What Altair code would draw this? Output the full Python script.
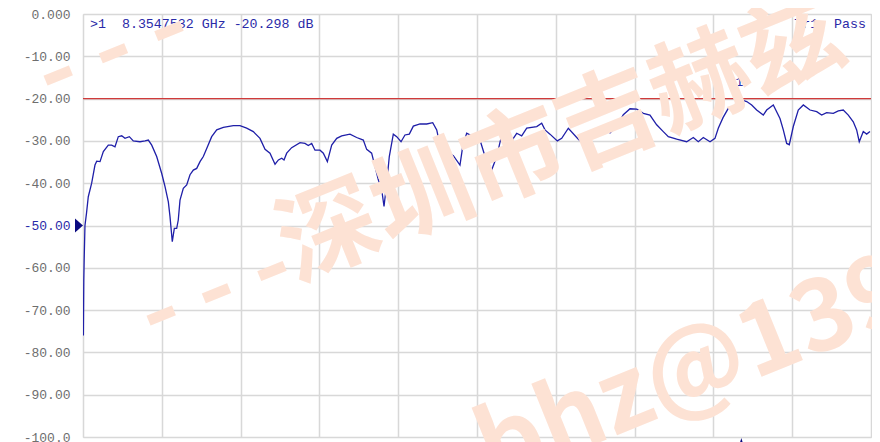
import altair as alt
import pandas as pd

# ---- data ----
freq_ghz = [0.005, 0.010, 0.015, 0.025, 0.045, 0.067, 0.110, 0.152, 0.174, 0.216, 0.258, 0.321, 0.364, 0.406,
            0.448, 0.491, 0.533, 0.588, 0.638, 0.723, 0.787, 0.829, 0.872, 0.935, 0.999, 1.041, 1.083, 1.104,
            1.133, 1.159, 1.189, 1.209, 1.231, 1.273, 1.316, 1.358, 1.400, 1.443, 1.485, 1.527, 1.570, 1.633,
            1.697, 1.781, 1.908, 1.992, 2.077, 2.161, 2.246, 2.310, 2.373, 2.437, 2.480, 2.522, 2.551, 2.585,
            2.648, 2.754, 2.817, 2.859, 2.902, 2.944, 3.008, 3.050, 3.101, 3.156, 3.220, 3.283, 3.388, 3.473,
            3.557, 3.600, 3.663, 3.706, 3.748, 3.791, 3.820, 3.854, 3.887, 3.938, 3.981, 4.036, 4.086, 4.141,
            4.192, 4.277, 4.362, 4.438, 4.489, 4.530, 4.565, 4.594, 4.700, 4.784, 4.818, 4.869, 4.953, 5.038,
            5.102, 5.186, 5.250, 5.301, 5.355, 5.440, 5.504, 5.567, 5.631, 5.758, 5.821, 5.863, 5.926, 6.019,
            6.075, 6.159, 6.286, 6.349, 6.434, 6.519, 6.603, 6.688, 6.773, 6.857, 6.942, 7.027, 7.111, 7.195,
            7.280, 7.364, 7.428, 7.534, 7.661, 7.745, 7.808, 7.872, 7.957, 8.020, 8.062, 8.122, 8.189, 8.253,
            8.296, 8.330, 8.355, 8.423, 8.486, 8.549, 8.633, 8.676, 8.760, 8.845, 8.887, 8.930, 8.963, 9.014,
            9.077, 9.141, 9.226, 9.311, 9.374, 9.437, 9.522, 9.585, 9.648, 9.712, 9.775, 9.818, 9.851, 9.902,
            9.945, 9.987]
s11_db = [-76.0, -63.0, -58.0, -50.0, -47.0, -43.2, -40.0, -35.7, -34.8, -34.9, -32.5, -31.0, -31.0, -31.4,
          -29.0, -28.8, -29.4, -29.0, -30.0, -30.2, -30.0, -29.8, -31.0, -33.7, -37.7, -40.8, -44.4, -47.9,
          -53.8, -50.7, -50.7, -48.7, -44.0, -41.2, -40.4, -38.0, -36.9, -36.5, -34.9, -33.7, -31.8, -29.0,
          -27.4, -26.8, -26.4, -26.4, -27.0, -27.8, -29.4, -32.0, -32.9, -35.5, -34.5, -34.1, -34.5, -32.9,
          -31.6, -30.4, -30.6, -31.1, -30.6, -32.2, -32.2, -32.9, -34.9, -31.0, -29.4, -28.8, -28.4, -29.2,
          -29.8, -32.0, -32.9, -36.1, -39.2, -41.6, -45.5, -40.0, -33.7, -28.4, -29.0, -30.2, -28.6, -28.4,
          -26.5, -26.0, -26.0, -25.7, -27.4, -31.0, -33.6, -32.3, -33.5, -35.7, -31.4, -28.2, -29.0, -29.8,
          -33.7, -36.9, -33.7, -29.6, -29.8, -30.0, -28.2, -28.8, -27.0, -26.6, -25.8, -27.4, -28.4, -30.0,
          -29.4, -27.0, -29.6, -30.6, -29.6, -27.8, -26.9, -28.1, -26.5, -23.8, -22.4, -22.5, -23.5, -23.9,
          -26.2, -27.8, -29.0, -29.6, -30.2, -29.2, -30.2, -29.2, -30.2, -29.4, -27.0, -24.5, -22.3, -21.9,
          -22.0, -18.6, -20.3, -20.7, -21.5, -22.7, -23.9, -22.7, -21.5, -24.7, -27.4, -30.6, -30.9, -26.6,
          -22.7, -21.5, -22.7, -23.1, -23.9, -23.3, -23.5, -22.9, -22.7, -23.9, -25.5, -27.4, -30.2, -27.8,
          -28.4, -27.8]
y_ticks = [0, -10, -20, -30, -40, -50, -60, -70, -80, -90, -100]
x_grid = [0, 1, 2, 3, 4, 5, 6, 7, 8, 9, 10]
marker_freq = [8.3547532]
marker_db = [-20.298]
limit_db = [-20.0]
ref_level_db = [-50.0]
marker_text = ">1\u00a0\u00a08.3547532\u00a0GHz\u00a0-20.298\u00a0dB"
status_text = "Tr1:\u00a0Pass"
marker_label = "1"
watermark_cjk = "深圳市吉赫兹"
watermark_dashes = "- - -"
watermark_mail = "bhz@139.com"

W, H = 788, 423
TRACE = "#1f1fa8"
BLUE = "#2a2aa8"
MONO = "Liberation Mono"
WM = "#fde2d4"

trace = pd.DataFrame({"f": freq_ghz, "db": s11_db})
one = pd.DataFrame({"k": [0]})

xs = alt.Scale(domain=[0, 10], nice=False, zero=False)
ys = alt.Scale(domain=[-100, 0], nice=False, zero=False)

x_axis = alt.Axis(values=x_grid, grid=True, labels=False, ticks=False, domain=False, title=None,
                  gridColor="#d8d8d8", gridWidth=1.5)
y_axis = alt.Axis(values=y_ticks, grid=True, ticks=False, domain=False, title=None,
                  gridColor="#d8d8d8", gridWidth=1.5,
                  labelFont=MONO, labelFontSize=13, labelPadding=13,
                  labelColor=alt.condition("datum.value == -50", alt.value(BLUE), alt.value("#6e6e6e")),
                  labelExpr="datum.value == 0 ? '0.000' : (datum.value == -100 ? '-100.0' : toString(datum.value) + '.00')")

line = alt.Chart(trace).mark_line(color=TRACE, strokeWidth=1.3, clip=True).encode(
    x=alt.X("f:Q", scale=xs, axis=x_axis),
    y=alt.Y("db:Q", scale=ys, axis=y_axis),
)

limit = alt.Chart(pd.DataFrame({"db": limit_db})).mark_rule(color="#d03a3a", strokeWidth=1.3).encode(
    y=alt.Y("db:Q", scale=ys)
)

mk = pd.DataFrame({"f": marker_freq, "db": marker_db, "t": [marker_label]})
mk_label = alt.Chart(mk).mark_text(font=MONO, fontSize=13, color=BLUE, dy=-18, dx=-2).encode(
    x=alt.X("f:Q", scale=xs), y=alt.Y("db:Q", scale=ys), text="t:N"
)
mk_bottom = alt.Chart(mk).mark_point(shape="M -0.6 1 L 0 -1 L 0.6 1 Z", filled=True, opacity=1,
                                      color="#0a0a80", size=196).encode(
    x=alt.X("f:Q", scale=xs), y=alt.value(H + 8)
)

end = pd.DataFrame({"f": [freq_ghz[-1]], "db": [s11_db[-1]], "t": [marker_label]})
end_label = alt.Chart(end).mark_text(font=MONO, fontSize=13, color=BLUE, align="left", dx=3).encode(
    x=alt.X("f:Q", scale=xs), y=alt.Y("db:Q", scale=ys), text="t:N"
)

ref = pd.DataFrame({"db": ref_level_db})
ref_left = alt.Chart(ref).mark_point(shape="M -0.57 -1 L 0.57 0 L -0.57 1 Z", filled=True, opacity=1,
                                      color="#0a0a80", size=196).encode(
    x=alt.value(-4), y=alt.Y("db:Q", scale=ys)
)
ref_right = alt.Chart(ref).mark_point(shape="M 0.57 -1 L -0.57 0 L 0.57 1 Z", filled=True, opacity=1,
                                       color="#0a0a80", size=196).encode(
    x=alt.value(W + 5), y=alt.Y("db:Q", scale=ys)
)

top_text = alt.Chart(one).mark_text(font=MONO, fontSize=13.3, color=BLUE, align="left", baseline="middle").encode(
    x=alt.value(7), y=alt.value(10), text=alt.value(marker_text)
)
status = alt.Chart(one).mark_text(font=MONO, fontSize=13.3, color=BLUE, align="right", baseline="middle").encode(
    x=alt.value(W - 5), y=alt.value(10), text=alt.value(status_text)
)

wm_font = "Noto Sans CJK SC"
wm1 = alt.Chart(one).mark_text(font=wm_font, fontSize=100, fontWeight="bold", color=WM, align="left",
                               baseline="middle", angle=338).encode(
    x=alt.value(201), y=alt.value(240), text=alt.value(watermark_cjk)
)
wm2 = alt.Chart(one).mark_text(font=wm_font, fontSize=100, fontWeight="bold", color=WM, align="center",
                               baseline="middle", angle=338).encode(
    x=alt.value(133), y=alt.value(278), text=alt.value(watermark_dashes)
)
wm3 = alt.Chart(one).mark_text(font=wm_font, fontSize=100, fontWeight="bold", color=WM, align="center",
                               baseline="middle", angle=338).encode(
    x=alt.value(30), y=alt.value(38), text=alt.value(watermark_dashes)
)
wm4 = alt.Chart(one).mark_text(font=wm_font, fontSize=100, fontWeight="bold", color=WM, align="left",
                               baseline="middle", angle=338).encode(
    x=alt.value(400), y=alt.value(443), text=alt.value(watermark_mail)
)

chart = alt.layer(
    line, limit, mk_label, end_label, top_text, status,
    wm1, wm2, wm3, wm4,
    ref_left, ref_right, mk_bottom,
).properties(
    width=W, height=H,
    autosize=alt.AutoSizeParams(type="none"),
    padding={"left": 75, "top": 6, "right": 1, "bottom": 5},
).configure_view(
    stroke="#6e6e6e", strokeWidth=1.5
).configure(background="white")

chart.save("out.html", embed_options={"renderer": "svg", "actions": False})
